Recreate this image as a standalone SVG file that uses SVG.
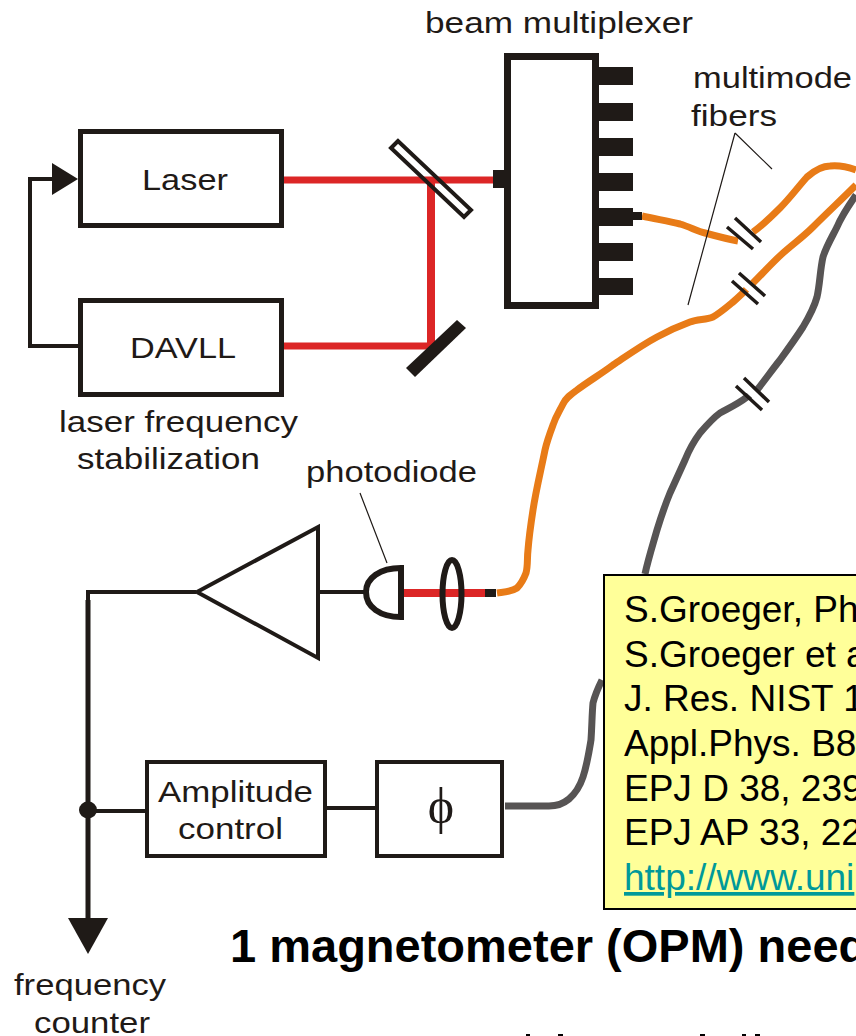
<svg xmlns="http://www.w3.org/2000/svg" width="856" height="1036" viewBox="0 0 856 1036">
<style>
.lb{font-family:"Liberation Sans",Arial,sans-serif;font-size:30px;fill:#1f1a17}
.ref{font-family:"Liberation Sans",Arial,sans-serif;font-size:37px;fill:#000}
.box{fill:#fff;stroke:#1f1a17;stroke-width:5}
.wire{fill:none;stroke:#1f1a17;stroke-width:4}
.beam{fill:none;stroke:#dc2626;stroke-width:7}
.org{fill:none;stroke:#e87b17;stroke-width:7;stroke-linejoin:round}
.gry{fill:none;stroke:#575454;stroke-width:7;stroke-linejoin:round}
.thin{fill:none;stroke:#1f1a17;stroke-width:1.2}
.tick{stroke:#1f1a17;stroke-width:3.5;fill:none}
.gap{stroke:#fff;stroke-width:9;fill:none}
.k{fill:#1f1a17}
</style>
<rect width="856" height="1036" fill="#fff"/>
<g id="connectors">
<path class="beam" d="M281 180H505M431 180V349M281 346H431"/>
<path class="beam" d="M431 180V346" style="stroke-width:8"/>
<path class="wire" d="M80 346H30V179H55"/>
<path class="wire" d="M196 592H88V925M88 811H146M326 808H376M318 592H364" />
<path class="wire" d="M88 600V925" style="stroke-width:5"/>
<path class="org" d="M642 216C655 219 668 221 680 224C690 227 697 231 705 233C716 236 727 239 738 241"/>
<path class="org" d="M753 232C763 225 771 217 780 208C790 198 798 187 807 177C815 170 822 166 830 166C840 165 848 167 856 170"/>
<path class="org" d="M856 185C842 199 827 213 813 227C803 237 793 244 783 253C773 262 763 273 753 283C747 289 740 296 733 302C727 307 720 313 713 317C706 320 698 319 690 322C679 326 668 331 657 337C642 345 628 355 613 365C601 374 589 381 577 390C570 395 566 398 563 404C559 412 556 416 553 425C550 433 547 441 545 450C541 470 536 490 533 510C531 523 529 537 528 550C527 558 528 566 526 573C523 581 520 585 517 588C511 592 504 592 497 593"/>
<path class="gry" d="M505 806H549C556 806 563 804 569 799C576 793 580 786 583 777C587 765 589 752 591 740C592 725 592 714 593 703C595 695 597 690 602 680"/>
<path class="gry" d="M645 574C648 560 653 544 657 530C661 517 665 505 670 493C675 482 680 471 685 460C689 450 694 441 700 433C706 426 713 418 720 413C729 408 738 404 747 397C750 395 753 393 757 390C765 380 772 370 780 360C788 349 796 338 803 327C809 317 814 308 817 297C820 284 820 270 823 257C826 247 832 237 837 227C842 215 849 205 856 195"/>
<path class="thin" d="M735 133L688 305M735 133L772 169M360 493L387 563"/>
<path class="gap" d="M740 227L752 238M746 283L758 294M749 389L761 400"/>
<path class="tick" d="M727 227L753 249M735 218L761 242M732 281L758 304M739 273L765 296M736 386L762 410M744 378L769 402"/>
</g>
<g id="laser"><rect class="box" x="80.5" y="131.5" width="201" height="94"/><text class="lb" x="142" y="190" textLength="86" lengthAdjust="spacingAndGlyphs">Laser</text></g>
<g id="davll"><rect class="box" x="80.5" y="300.5" width="201" height="94"/><text class="lb" x="130" y="358" textLength="106" lengthAdjust="spacingAndGlyphs">DAVLL</text></g>
<path id="feedback-arrow" class="k" d="M52 163L78 179L52 195Z"/>
<g id="splitter"><path d="M398 141L391 148L464 217L471 210Z" fill="none" stroke="#1f1a17" stroke-width="4"/></g>
<g id="mirror"><path class="k" d="M457 320L466 328L415 377L406 368Z"/></g>
<g id="multiplexer">
<rect class="box" x="507.5" y="56.5" width="88" height="249" style="stroke-width:7"/>
<rect class="k" x="493" y="170" width="14" height="18"/>
<path class="k" d="M598 67h35v18h-35zM598 103h35v18h-35zM598 138h35v18h-35zM598 173h35v18h-35zM598 208h35v18h-35zM598 243h35v18h-35zM598 278h35v17h-35z"/>
<rect class="k" x="633" y="212" width="9" height="8"/>
</g>
<g id="labels">
<text class="lb" x="425" y="33" textLength="268" lengthAdjust="spacingAndGlyphs">beam multiplexer</text>
<text class="lb" x="693" y="88" textLength="159" lengthAdjust="spacingAndGlyphs">multimode</text>
<text class="lb" x="691" y="126" textLength="86" lengthAdjust="spacingAndGlyphs">fibers</text>
<text class="lb" x="59" y="432" textLength="239" lengthAdjust="spacingAndGlyphs">laser frequency</text>
<text class="lb" x="77" y="469" textLength="183" lengthAdjust="spacingAndGlyphs">stabilization</text>
<text class="lb" x="306" y="482" textLength="171" lengthAdjust="spacingAndGlyphs">photodiode</text>
<text class="lb" x="14" y="995" textLength="152" lengthAdjust="spacingAndGlyphs">frequency</text>
<text class="lb" x="34" y="1033" textLength="116" lengthAdjust="spacingAndGlyphs">counter</text>
</g>
<g id="amplifier"><path d="M197 592L318 527V658Z" fill="#fff" stroke="#1f1a17" stroke-width="4"/></g>
<g id="diode"><path d="M401 568V617C380 617 366 607 366 592C366 578 380 568 401 568Z" fill="#fff" stroke="#1f1a17" stroke-width="6"/></g>
<g id="fiber-in">
<path d="M404 593H486" fill="none" stroke="#dc2626" stroke-width="8"/>
<ellipse cx="452" cy="594" rx="9.5" ry="34" fill="none" stroke="#1f1a17" stroke-width="6"/>
<rect class="k" x="485" y="589" width="11" height="8"/>
</g>
<g id="amplitude"><rect class="box" x="147" y="762" width="178" height="94" style="stroke-width:4"/><text class="lb" x="158" y="802" textLength="155" lengthAdjust="spacingAndGlyphs">Amplitude</text><text class="lb" x="178" y="839" textLength="105" lengthAdjust="spacingAndGlyphs">control</text></g>
<g id="phase"><rect class="box" x="377" y="762" width="125" height="94" style="stroke-width:4"/><text x="441" y="823" text-anchor="middle" font-family="'Liberation Serif',serif" font-size="50" fill="#1f1a17">ϕ</text></g>
<ellipse id="junction" class="k" cx="88" cy="810" rx="9" ry="8.5"/>
<path id="output-arrow" class="k" d="M68 918H108L88 954Z"/>
<g id="note">
<rect x="604" y="575" width="260" height="334" fill="#ffff99" stroke="#000" stroke-width="2"/>
<text class="ref" x="624" y="622">S.Groeger, Ph</text>
<text class="ref" x="624" y="667">S.Groeger et a</text>
<text class="ref" x="624" y="711">J. Res. NIST 1</text>
<text class="ref" x="624" y="756">Appl.Phys. B8</text>
<text class="ref" x="624" y="801">EPJ D 38, 239</text>
<text class="ref" x="624" y="845">EPJ AP 33, 22</text>
<text class="ref" x="624" y="890" style="fill:#009999;text-decoration:underline">http://www.uni</text>
</g>
<text id="heading" x="230" y="962" font-family="'Liberation Sans',Arial,sans-serif" font-weight="700" font-size="47" fill="#000">1 magnetometer (OPM) need</text>
<path id="clipped-line" d="M526 1034h4v2h-4zM558 1034h5v2h-5zM700 1034h5v2h-5zM742 1034h4v2h-4zM755 1034h5v2h-5z" fill="#000"/>
</svg>
